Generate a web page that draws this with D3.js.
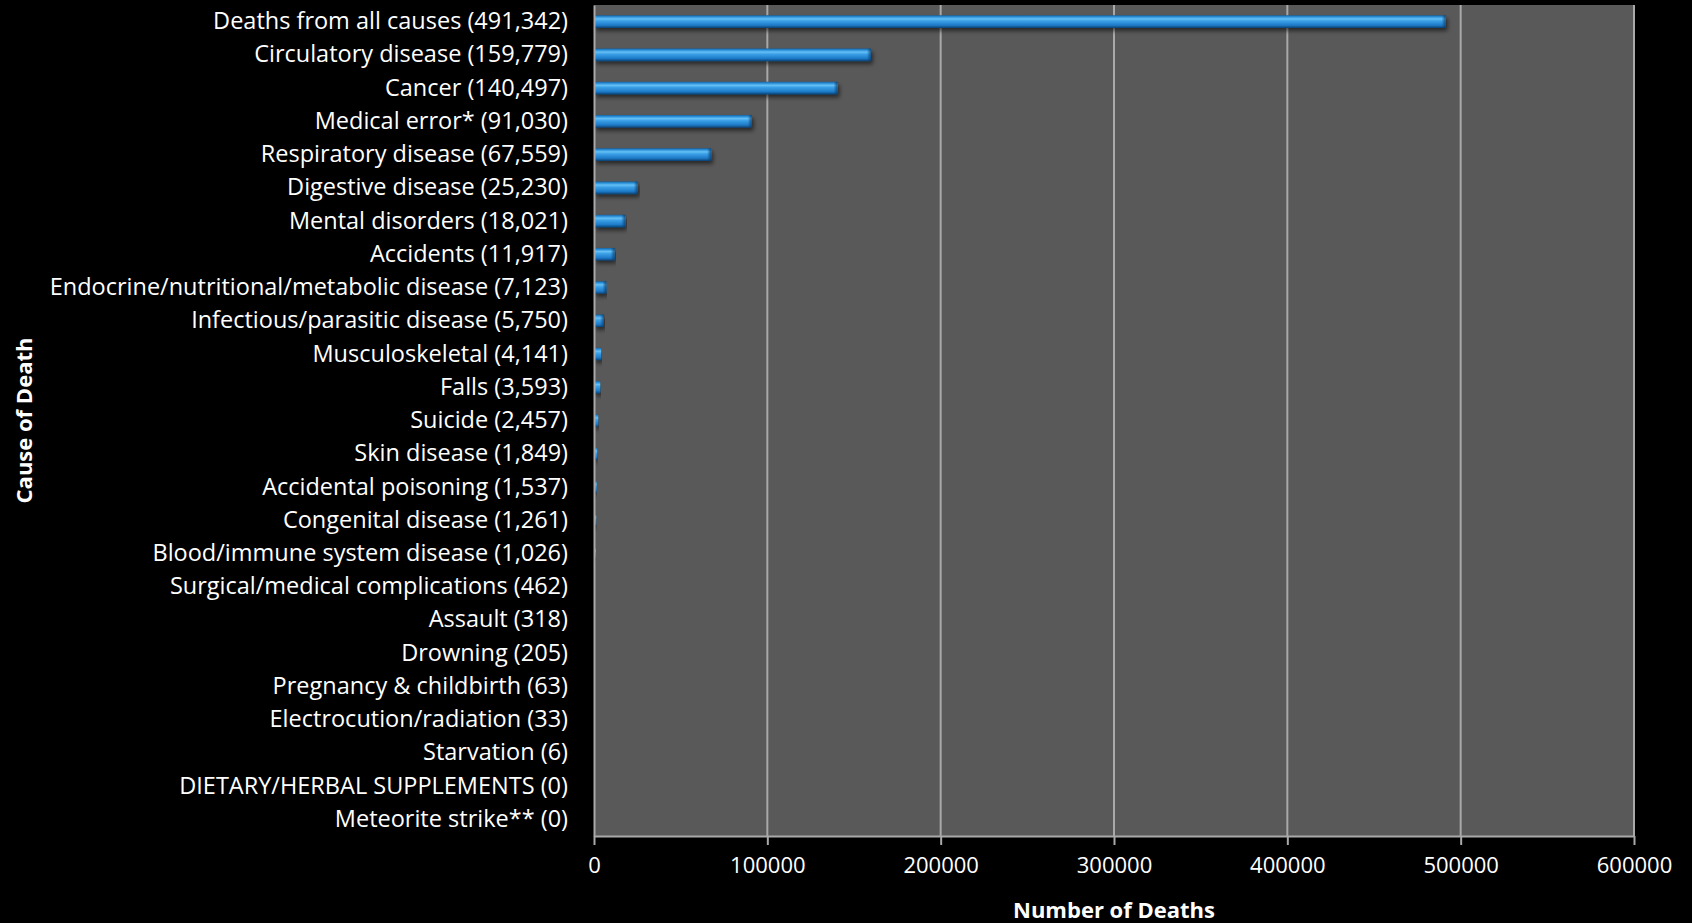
<!DOCTYPE html>
<html>
<head>
<meta charset="utf-8">
<script src="https://cdn.jsdelivr.net/npm/d3@7"></script>
<style>
  body { margin: 0; background: #000; }
  svg { display: block; }
</style>
</head>
<body>
<div id="chart"></div>
<script>
var causes = [
  "Deaths from all causes", "Circulatory disease", "Cancer", "Medical error*",
  "Respiratory disease", "Digestive disease", "Mental disorders", "Accidents",
  "Endocrine/nutritional/metabolic disease", "Infectious/parasitic disease",
  "Musculoskeletal", "Falls", "Suicide", "Skin disease", "Accidental poisoning",
  "Congenital disease", "Blood/immune system disease", "Surgical/medical complications",
  "Assault", "Drowning", "Pregnancy & childbirth", "Electrocution/radiation",
  "Starvation", "DIETARY/HERBAL SUPPLEMENTS", "Meteorite strike**"
];
var deaths = [
  491342, 159779, 140497, 91030, 67559, 25230, 18021, 11917, 7123, 5750,
  4141, 3593, 2457, 1849, 1537, 1261, 1026, 462, 318, 205, 63, 33, 6, 0, 0
];
var xTicks = [0, 100000, 200000, 300000, 400000, 500000, 600000];

var data = causes.map(function (c, i) {
  return { name: c, value: deaths[i] };
});

var font = "'Open Sans', 'Noto Sans', sans-serif";
var W = 1692, H = 923;
var margin = { top: 5, right: 58, bottom: 87, left: 594 };
var width = W - margin.left - margin.right,
  height = H - margin.top - margin.bottom;

var svg = d3.select("#chart").append("svg")
  .attr("width", W)
  .attr("height", H)
  .style("background", "#000");

var defs = svg.append("defs");
var grad = defs.append("linearGradient")
  .attr("id", "barGrad")
  .attr("x1", 0).attr("y1", 0).attr("x2", 0).attr("y2", 1);
grad.append("stop").attr("offset", "0%").attr("stop-color", "#17629f");
grad.append("stop").attr("offset", "12%").attr("stop-color", "#2b8fd8");
grad.append("stop").attr("offset", "28%").attr("stop-color", "#66c0f5");
grad.append("stop").attr("offset", "45%").attr("stop-color", "#3a9fe6");
grad.append("stop").attr("offset", "78%").attr("stop-color", "#1e7bc9");
grad.append("stop").attr("offset", "100%").attr("stop-color", "#0a4274");

var capGrad = defs.append("linearGradient")
  .attr("id", "capGrad")
  .attr("x1", 0).attr("y1", 0).attr("x2", 1).attr("y2", 0);
capGrad.append("stop").attr("offset", "0%").attr("stop-color", "#0a3e6e").attr("stop-opacity", 0);
capGrad.append("stop").attr("offset", "100%").attr("stop-color", "#0a3e6e").attr("stop-opacity", 0.8);

var shadow = defs.append("filter").attr("id", "shadow")
  .attr("x", "-5%").attr("y", "-50%").attr("width", "110%").attr("height", "250%");
shadow.append("feDropShadow")
  .attr("dx", 2).attr("dy", 3).attr("stdDeviation", 2)
  .attr("flood-color", "#000").attr("flood-opacity", 0.55);

var g = svg.append("g")
  .attr("transform", `translate(${margin.left}, ${margin.top})`);

var x = d3.scaleLinear().domain([0, 600000]).range([0, width]);
var y = d3.scaleBand()
  .domain(data.map(function (d) { return d.name; }))
  .range([0, height])
  .paddingInner(0.62)
  .paddingOuter(0.31);

g.append("rect")
  .attr("width", width)
  .attr("height", height)
  .style("fill", "#595959");

// gridlines
g.append("g")
  .selectAll("line")
  .data(xTicks.slice(1))
  .join("line")
  .attr("x1", function (d) { return x(d); })
  .attr("x2", function (d) { return x(d); })
  .attr("y1", 0)
  .attr("y2", height)
  .style("stroke", "#a9a9a9")
  .style("stroke-width", 2);

// bars
var nonzero = data.filter(function (d) { return d.value > 0; });
g.append("g")
  .selectAll("rect")
  .data(nonzero)
  .join("rect")
  .attr("x", 0)
  .attr("y", function (d) { return y(d.name); })
  .attr("width", function (d) { return Math.max(x(d.value), 0.6); })
  .attr("height", y.bandwidth())
  .attr("rx", 1.5)
  .style("fill", "url(#barGrad)")
  .attr("filter", "url(#shadow)");

// darker bevel at the bar ends
g.append("g")
  .selectAll("rect")
  .data(nonzero.filter(function (d) { return x(d.value) > 8; }))
  .join("rect")
  .attr("x", function (d) { return x(d.value) - 4; })
  .attr("y", function (d) { return y(d.name); })
  .attr("width", 4)
  .attr("height", y.bandwidth())
  .style("fill", "url(#capGrad)");

// x axis
var xAxis = d3.axisBottom(x)
  .tickValues(xTicks)
  .tickFormat(d3.format("d"))
  .tickSizeInner(9)
  .tickSizeOuter(0)
  .tickPadding(12);

var xg = g.append("g")
  .attr("transform", `translate(0, ${height})`)
  .call(xAxis);
xg.select(".domain").style("stroke", "#a9a9a9").style("stroke-width", 2);
xg.selectAll(".tick line").style("stroke", "#a9a9a9").style("stroke-width", 2);
xg.selectAll("text")
  .style("fill", "#fff")
  .style("font-family", font)
  .style("font-size", "22px");

// y axis
var yAxis = d3.axisLeft(y)
  .tickSize(0)
  .tickPadding(26)
  .tickFormat(function (d, i) { return d + " (" + d3.format(",")(deaths[i]) + ")"; });

var yg = g.append("g").call(yAxis);
yg.select(".domain").style("stroke", "#a9a9a9").style("stroke-width", 2);
yg.selectAll("text")
  .style("fill", "#fff")
  .style("font-family", font)
  .style("font-size", "23.5px");

// titles
svg.append("text")
  .attr("x", margin.left + width / 2)
  .attr("y", 918)
  .attr("text-anchor", "middle")
  .style("fill", "#fff")
  .style("font-family", font)
  .style("font-weight", "bold")
  .style("font-size", "22px")
  .text("Number of Deaths");

svg.append("text")
  .attr("transform", `translate(32, ${margin.top + height / 2}) rotate(-90)`)
  .attr("text-anchor", "middle")
  .style("fill", "#fff")
  .style("font-family", font)
  .style("font-weight", "bold")
  .style("font-size", "22px")
  .text("Cause of Death");
</script>
</body>
</html>
